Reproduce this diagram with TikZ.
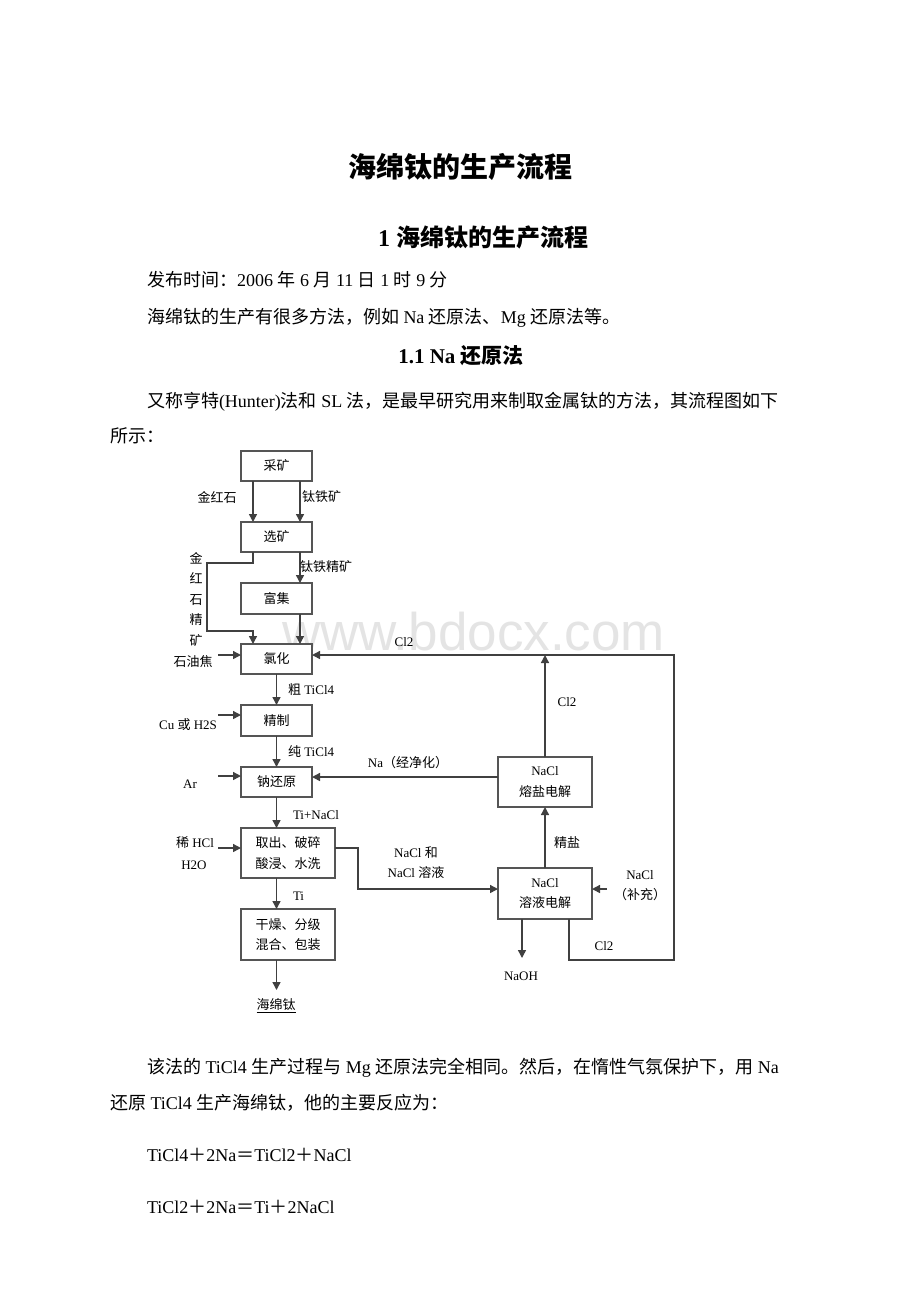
\documentclass[tikz,border=0pt]{standalone}
\usepackage{fontspec}
\setmainfont{Liberation Serif}
\setsansfont{Liberation Sans}
\newfontfamily\cjk{Noto Sans CJK SC}
\usetikzlibrary{arrows.meta}
\XeTeXinterchartokenstate=1
\chardef\CJKcls=7
\newcount\cjkc
\cjkc="4E00 \loop\XeTeXcharclass\cjkc=\CJKcls \ifnum\cjkc<"9FFF \advance\cjkc by 1 \repeat
\cjkc="3000 \loop\XeTeXcharclass\cjkc=\CJKcls \ifnum\cjkc<"303F \advance\cjkc by 1 \repeat
\cjkc="FF00 \loop\XeTeXcharclass\cjkc=\CJKcls \ifnum\cjkc<"FFEF \advance\cjkc by 1 \repeat
\XeTeXinterchartoks 0 \CJKcls = {\cjk}
\XeTeXinterchartoks 4095 \CJKcls = {\cjk}
\XeTeXinterchartoks \CJKcls 0 = {\rmfamily}
\XeTeXinterchartoks \CJKcls 4095 = {\rmfamily}
\newcommand\mybodyfont{\fontsize{18}{22}\selectfont}
\newcommand\mytitlefont{\fontsize{28}{32}\selectfont\bfseries}
\newcommand\myheadfont{\fontsize{24}{28}\selectfont\bfseries}
\newcommand\mysubfont{\fontsize{21}{25}\selectfont\bfseries}
\newcommand\mydfont{\fontsize{13}{20.5}\selectfont}
\definecolor{boxc}{HTML}{555555}
\definecolor{linec}{HTML}{404040}
\definecolor{wmark}{HTML}{E4E4E4}
\begin{document}
\begin{tikzpicture}[x=1pt,y=-1pt,
  every node/.style={inner sep=0pt,outer sep=0pt},
  box/.style={draw=boxc,line width=1.5pt,fill=white,minimum width=71pt,minimum height=30pt,font=\mydfont,align=center},
  wbox/.style={box,minimum width=94pt,minimum height=50pt},
  arr/.style={draw=linec,line width=1.4pt,-{Triangle[length=8pt,width=8pt]}},
  lbl/.style={font=\mydfont},
  body/.style={font=\mybodyfont,anchor=west}]
\fill[white] (0,0) rectangle (920,1302);
\useasboundingbox (0,0) rectangle (920,1302);

% watermark
\node[font={\XeTeXinterchartokenstate=0 \sffamily\fontsize{53}{60}\selectfont},text=wmark,anchor=base east] (wm) at (665,650) {www.bdocx.com};

% text
\node[font=\mytitlefont] (t1) at (460,167) {海绵钛的生产流程};
\node[font=\myheadfont] (t2) at (483,237) {1 海绵钛的生产流程};
\node[body] (p1) at (147,280) {发布时间：2006 年 6 月 11 日 1 时 9 分};
\node[body] (p2) at (147,318) {海绵钛的生产有很多方法，例如 Na 还原法、Mg 还原法等。};
\node[font=\mysubfont] (t3) at (461,356) {1.1 Na 还原法};
\node[body] (p3) at (147,402) {又称亨特(Hunter)法和 SL 法，是最早研究用来制取金属钛的方法，其流程图如下};
\node[body] (p4) at (110,436) {所示：};
\node[body] (p5) at (147,1068) {该法的 TiCl4 生产过程与 Mg 还原法完全相同。然后，在惰性气氛保护下，用 Na};
\node[body] (p6) at (110,1103) {还原 TiCl4 生产海绵钛，他的主要反应为：};
\node[body] (p7) at (147,1155) {TiCl4＋2Na＝TiCl2＋NaCl};
\node[body] (p8) at (147,1207) {TiCl2＋2Na＝Ti＋2NaCl};

% boxes
\node[box] (ck) at (276.5,466) {采矿};
\node[box] (xk) at (276.5,537) {选矿};
\node[box,minimum height=31pt] (fj) at (276.5,598.5) {富集};
\node[box] (lh) at (276.5,659) {氯化};
\node[box,minimum height=31pt] (jz) at (276.5,720.5) {精制};
\node[box] (nh) at (276.5,782) {钠还原};
\node[wbox] (qc) at (288,853) {取出、破碎\\酸浸、水洗};
\node[wbox,minimum height=51pt] (gz) at (288,934.5) {干燥、分级\\混合、包装};
\node[wbox] (ry) at (545,782) {NaCl\\熔盐电解};
\node[wbox,minimum height=51pt] (rj) at (545,893.5) {NaCl\\溶液电解};

% main column connectors
\draw[arr] ([xshift=-23.5pt]ck.south) -- ([xshift=-23.5pt]xk.north);
\draw[arr] ([xshift=23.5pt]ck.south) -- ([xshift=23.5pt]xk.north);
\coordinate (k1) at (207,563);
\coordinate (k2) at (207,631);
\draw[arr] ([xshift=-23.5pt]xk.south) |- (k1) -- (k2) -| ([xshift=-23.5pt]lh.north);
\draw[arr] ([xshift=23.5pt]xk.south) -- ([xshift=23.5pt]fj.north);
\draw[arr] ([xshift=23.5pt]fj.south) -- ([xshift=23.5pt]lh.north);
\draw[arr] (lh.south) -- (jz.north);
\draw[arr] (jz.south) -- (nh.north);
\draw[arr] (nh.south) -- (nh.south |- qc.north);
\draw[arr] (qc.south -| nh.south) -- (gz.north -| nh.south);
\coordinate (hend) at (276.5,990);
\draw[arr] (gz.south -| nh.south) -- (hend);
\node[lbl] (hmj) at (276,1005) {海绵钛};
\draw[line width=0.8pt] ([yshift=-1.5pt]hmj.south west) -- ([yshift=-1.5pt]hmj.south east);

% inputs on the left
\coordinate (syj) at (218,655);
\draw[arr] (syj) -- (syj -| lh.west);
\coordinate (cu) at (218,715);
\draw[arr] (cu) -- (cu -| jz.west);
\coordinate (ar) at (218,776);
\draw[arr] (ar) -- (ar -| nh.west);
\coordinate (hcl) at (218,848);
\draw[arr] (hcl) -- (hcl -| qc.west);

% right part
\coordinate (q1) at (358,848);
\coordinate (q2) at (358,889);
\draw[arr] (q1 -| qc.east) -- (q1) -- (q2) -- (q2 -| rj.west);
\draw[arr] (rj.north) -- (ry.south);
\coordinate (topc) at (545,655);
\draw[arr] (ry.north) -- (topc);
\coordinate (na) at (400,777);
\draw[arr] (na -| ry.west) -- (na -| nh.east);
\coordinate (f1) at (569,960);
\coordinate (f2) at (674,960);
\coordinate (f3) at (674,655);
\draw[arr] (f1 |- rj.south) -- (f1) -- (f2) -- (f3) -- (f3 -| lh.east);
\coordinate (naoh) at (522,958);
\draw[arr] (naoh |- rj.south) -- (naoh);
\coordinate (bc) at (607,889);
\draw[arr] (bc) -- (bc -| rj.east);

% labels
\node[lbl] (l1) at (217,497) {金红石};
\node[lbl,anchor=west] (l2) at (302,497) {钛铁矿};
\node[lbl,anchor=west] (l3) at (300,567) {钛铁精矿};
\node[lbl,align=center] (l4) at (196,599) {金\\红\\石\\精\\矿};
\node[lbl] (l5) at (193,662) {石油焦};
\node[lbl,anchor=west] (l6) at (288,690) {粗 TiCl4};
\node[lbl] (l7) at (188,725) {Cu 或 H2S};
\node[lbl,anchor=west] (l8) at (288,752) {纯 TiCl4};
\node[lbl] (l9) at (190,784) {Ar};
\node[lbl,anchor=west] (l10) at (293,815) {Ti+NaCl};
\node[lbl] (l11) at (195,843) {稀 HCl};
\node[lbl] (l12) at (194,865) {H2O};
\node[lbl,anchor=west] (l13) at (293,896) {Ti};
\node[lbl] (l14) at (404,642) {Cl2};
\node[lbl] (l15) at (567,702) {Cl2};
\node[lbl] (l16) at (408,763) {Na（经净化）};
\node[lbl] (l17) at (567,843) {精盐};
\node[lbl] (l18) at (416,853) {NaCl 和};
\node[lbl] (l19) at (416,873) {NaCl 溶液};
\node[lbl] (l20) at (640,875) {NaCl};
\node[lbl] (l21) at (640,895) {（补充）};
\node[lbl] (l22) at (604,946) {Cl2};
\node[lbl] (l23) at (521,976) {NaOH};
\end{tikzpicture}
\end{document}
